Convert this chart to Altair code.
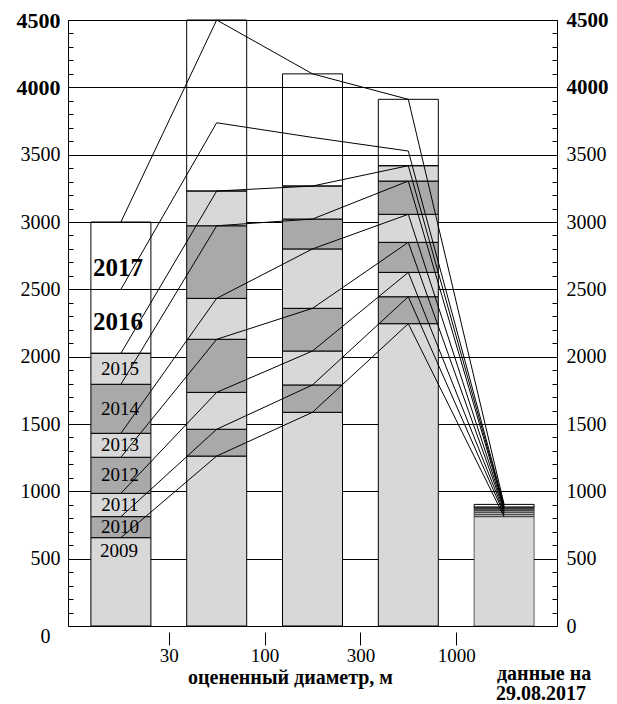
import altair as alt
import pandas as pd

# ---------------- data ----------------
years = [2009, 2010, 2011, 2012, 2013, 2014, 2015, 2016, 2017]
tick_labels = ["30", "100", "300", "1000"]

# cumulative number of known objects at the end of each year, per diameter bin
cum_lt30 = [656, 812, 985, 1253, 1431, 1795, 2025, 2500, 3000]
cum_30_100 = [1262, 1461, 1735, 2129, 2433, 2972, 3230, 3737, 4500]
cum_100_300 = [1587, 1790, 2042, 2359, 2800, 3022, 3267, 3628, 4100]
cum_300_1000 = [2245, 2445, 2626, 2849, 3057, 3304, 3418, 3527, 3911]
cum_gt1000 = [812, 830, 845, 858, 868, 876, 883, 893, 903]

series = [cum_lt30, cum_30_100, cum_100_300, cum_300_1000, cum_gt1000]
n_filled = 7  # 2009..2015 are hatched, 2016-2017 open box

# ---------------- tables ----------------
seg_rows, box_rows, line_rows = [], [], []
for i, s in enumerate(series):
    pos = i + 0.5
    prev = 0
    for j in range(n_filled):
        seg_rows.append({"pos": pos, "y0": prev, "y1": s[j],
                         "kind": "sparse" if j % 2 == 0 else "dense"})
        prev = s[j]
    box_rows.append({"pos": pos, "y0": s[n_filled - 1], "y1": s[-1]})
    for j, yr in enumerate(years):
        line_rows.append({"year": yr, "pos": pos, "val": s[j]})

label_rows = []
prev = 0
for j, yr in enumerate(years):
    label_rows.append({"year": str(yr), "pos": 0.5, "hi": cum_lt30[j],
                       "mid": (prev + cum_lt30[j]) / 2})
    prev = cum_lt30[j]
labels = pd.DataFrame(label_rows)

seg = pd.DataFrame(seg_rows)
box = pd.DataFrame(box_rows)
lines = pd.DataFrame(line_rows)

# ---------------- styling ----------------
W, H = 489, 606
FONT = "Liberation Serif"
grid_vals = list(range(0, 4501, 500))
minor_vals = list(range(0, 4501, 100))
Y_SCALE = alt.Scale(domain=[0, 4500], nice=False, zero=True)
X_SCALE = alt.Scale(domain=[0, 5], nice=False, zero=False)

big = "datum.value >= 4000"
left_axis = alt.Axis(
    orient="left", values=grid_vals, format="d", grid=True, gridColor="black",
    gridWidth=1, gridOpacity=1, domain=True, domainColor="black", domainWidth=1,
    ticks=False, labelFont=FONT, labelColor="black", labelOverlap=False,
    labelFontSize={"condition": {"test": big, "value": 22}, "value": 20},
    labelFontWeight={"condition": {"test": big, "value": "bold"}, "value": "normal"},
    labelPadding={"condition": {"test": "datum.value == 0", "value": 18}, "value": 8},
    labelOffset={"condition": {"test": "datum.value == 0", "value": 10}, "value": 0},
    title=None,
)
right_axis = alt.Axis(
    orient="right", values=grid_vals, format="d", grid=False, domain=True,
    domainColor="black", domainWidth=1, ticks=False, labelFont=FONT,
    labelColor="black", labelOverlap=False,
    labelFontSize={"condition": {"test": big, "value": 21}, "value": 20},
    labelFontWeight={"condition": {"test": big, "value": "bold"}, "value": "normal"},
    labelPadding=9, title=None,
)
minor_left = alt.Axis(orient="right", offset=-W, values=minor_vals, grid=False,
                      domain=False, labels=False, ticks=True, tickSize=5,
                      tickColor="black", tickWidth=1, title=None)
minor_right = alt.Axis(orient="left", offset=-W, values=minor_vals, grid=False,
                       domain=False, labels=False, ticks=True, tickSize=5,
                       tickColor="black", tickWidth=1, title=None)

label_expr = "[" + ",".join("'" + t + "'" for t in [""] + tick_labels) + "][datum.value]"
x_axis = alt.Axis(
    orient="bottom", values=[1, 2, 3, 4], labelExpr=label_expr, offset=6,
    tickSize=13, tickColor="black", ticks=True, domain=False, grid=False,
    labelFont=FONT, labelFontSize=19, labelColor="black", labelPadding=1,
    labelFlush=False, labelOverlap=False,
    title="оцененный диаметр, м", titleFont=FONT, titleFontSize=20,
    titleFontWeight="bold", titleColor="black", titleX=222, titleY=45,
    titleAlign="center", titleBaseline="middle",
)

bars = alt.Chart(seg).mark_bar(size=60, stroke="black").encode(
    x=alt.X("pos:Q", scale=X_SCALE, axis=x_axis),
    y=alt.Y("y0:Q", scale=Y_SCALE, axis=left_axis),
    y2="y1:Q",
    fill=alt.Fill("kind:N", scale=alt.Scale(domain=["sparse", "dense"],
                                             range=["#d8d8d8", "#a9a9a9"]), legend=None),
    strokeWidth=alt.condition("datum.pos > 4", alt.value(0.6), alt.value(1)),
)

boxes = alt.Chart(box).mark_bar(size=60, stroke="black", strokeWidth=1,
                                fillOpacity=0).encode(
    x=alt.X("pos:Q", scale=X_SCALE, axis=None),
    y=alt.Y("y0:Q", scale=Y_SCALE, axis=minor_left),
    y2="y1:Q",
)

line_layer = alt.Chart(lines).mark_line(color="black", strokeWidth=1).encode(
    x=alt.X("pos:Q", scale=X_SCALE, axis=None),
    y=alt.Y("val:Q", scale=Y_SCALE, axis=right_axis),
    detail="year:N",
    order="pos:Q",
)

reg_labels = alt.Chart(labels).transform_filter(
    "datum.year >= 2010 && datum.year <= 2015"
).mark_text(font=FONT, fontSize=19, color="black", baseline="middle", dx=-1).encode(
    x=alt.X("pos:Q", scale=X_SCALE, axis=None),
    y=alt.Y("mid:Q", scale=Y_SCALE, axis=minor_right),
    text="year:N",
)

first_label = alt.Chart(labels).transform_filter("datum.year == 2009").mark_text(
    font=FONT, fontSize=19, color="black", baseline="top", dy=4, dx=-2
).encode(
    x=alt.X("pos:Q", scale=X_SCALE, axis=None),
    y=alt.Y("hi:Q", scale=Y_SCALE, axis=None),
    text="year:N",
)

label_2016 = alt.Chart(labels).transform_filter("datum.year == 2016").mark_text(
    font=FONT, fontSize=25, fontWeight="bold", color="black", baseline="middle",
    dy=1, dx=-3
).encode(
    x=alt.X("pos:Q", scale=X_SCALE, axis=None),
    y=alt.Y("mid:Q", scale=Y_SCALE, axis=None),
    text="year:N",
)

label_2017 = alt.Chart(labels).transform_filter("datum.year == 2017").mark_text(
    font=FONT, fontSize=25, fontWeight="bold", color="black", baseline="middle",
    dy=12, dx=-3
).encode(
    x=alt.X("pos:Q", scale=X_SCALE, axis=None),
    y=alt.Y("mid:Q", scale=Y_SCALE, axis=None),
    text="year:N",
)

note1 = alt.Chart(pd.DataFrame({"k": [0]})).mark_text(
    text="данные на", font=FONT, fontSize=20, fontWeight="bold",
    color="black", align="left", baseline="middle",
).encode(x=alt.value(429), y=alt.value(654))

note2 = alt.Chart(pd.DataFrame({"k": [0]})).mark_text(
    text="29.08.2017", font=FONT, fontSize=20, fontWeight="bold",
    color="black", align="left", baseline="middle",
).encode(x=alt.value(428), y=alt.value(674))

chart = alt.layer(
    bars, boxes, line_layer, reg_labels, first_label, label_2016, label_2017,
    note1, note2
).resolve_axis(x="independent", y="independent").properties(
    width=W, height=H,
    autosize=alt.AutoSizeParams(type="none"),
    padding={"left": 60, "top": 12, "right": 52, "bottom": 78},
    background="white",
).configure_view(strokeWidth=0)

chart.save("out.html", embed_options={"renderer": "svg", "actions": False})
